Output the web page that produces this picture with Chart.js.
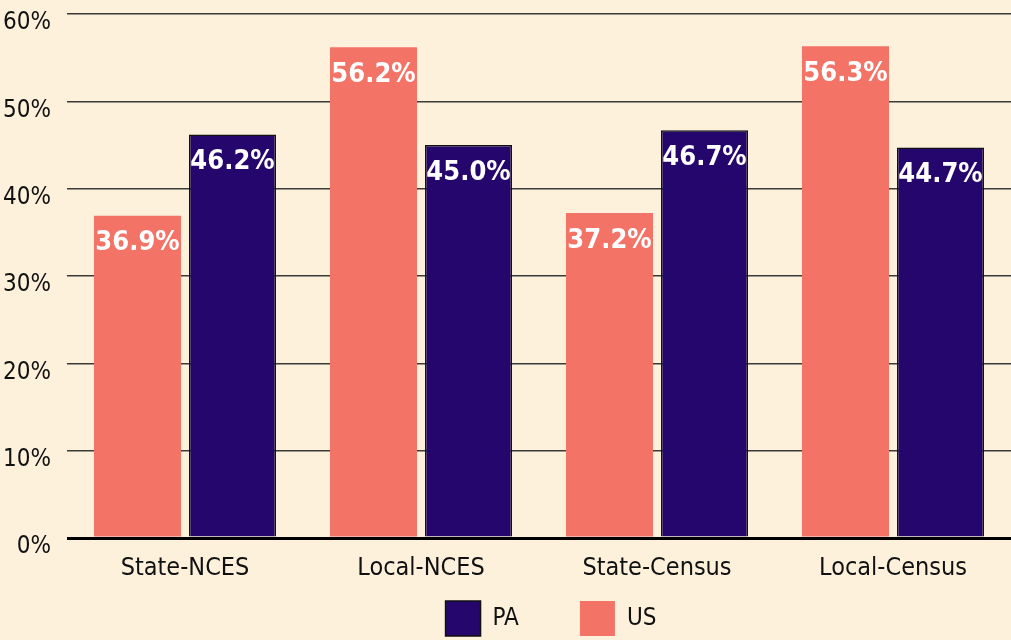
<!DOCTYPE html>
<html>
<head>
<meta charset="utf-8">
<script src="https://cdn.jsdelivr.net/npm/chart.js@4/dist/chart.umd.min.js"></script>
<style>
  html, body { margin: 0; padding: 0; background: #fdf1dc; }
  #wrap { width: 1011px; height: 640px; }
</style>
</head>
<body>
<div id="wrap"><canvas id="chart"></canvas></div>
<script>
const categories = ['State-NCES', 'Local-NCES', 'State-Census', 'Local-Census'];
const usValues = [36.9, 56.2, 37.2, 56.3];
const paValues = [46.2, 45.0, 46.7, 44.7];
const yTicks = [0, 10, 20, 30, 40, 50, 60];

const FONT = '"DejaVu Sans Condensed", sans-serif';

// value labels drawn in white near the top of each bar
const barLabels = {
  id: 'barLabels',
  afterDatasetsDraw(chart) {
    const ctx = chart.ctx;
    ctx.save();
    ctx.fillStyle = '#ffffff';
    ctx.font = 'bold 27px ' + FONT;
    ctx.textAlign = 'center';
    ctx.textBaseline = 'top';
    chart.data.datasets.forEach((ds, i) => {
      chart.getDatasetMeta(i).data.forEach((bar, j) => {
        ctx.fillText(ds.data[j].toFixed(1) + '%', bar.x, bar.y + 14);
      });
    });
    ctx.restore();
  }
};

// nudge the legend a little to the right of centre
const legendShift = {
  id: 'legendShift',
  afterLayout(chart) {
    if (chart.legend) chart.legend.left += 24;
  }
};

new Chart(document.getElementById('chart'), {
  type: 'bar',
  data: {
    labels: categories,
    datasets: [
      {
        label: 'US',
        data: usValues,
        backgroundColor: '#f37367',
        borderWidth: 0
      },
      {
        label: 'PA',
        data: paValues,
        backgroundColor: '#25066c',
        borderColor: '#111111',
        borderWidth: 1.5
      }
    ]
  },
  options: {
    responsive: true,
    maintainAspectRatio: false,
    animation: false,
    categoryPercentage: 0.805,
    barPercentage: 0.916,
    layout: { padding: { top: 14, right: 0, left: 0, bottom: -6 } },
    plugins: {
      tooltip: { enabled: false },
      legend: {
        position: 'bottom',
        fullSize: false,
        reverse: true,
        labels: {
          boxWidth: 35,
          boxHeight: 35,
          padding: 20,
          color: '#111111',
          font: { family: FONT, size: 24 },
          // extra room after the first entry
          generateLabels(chart) {
            const items = Chart.defaults.plugins.legend.labels.generateLabels(chart);
            items.forEach(it => { if (it.text === 'PA') it.text = 'PA\u00a0\u00a0\u00a0\u00a0\u00a0\u00a0'; });
            return items;
          }
        }
      }
    },
    scales: {
      x: {
        afterFit(scale) { scale.height = 43; },
        grid: { display: false },
        border: { display: false },
        ticks: {
          color: '#111111',
          padding: 10,
          font: { family: FONT, size: 25, lineHeight: 1 }
        }
      },
      y: {
        min: 0,
        max: 60,
        afterFit(scale) {
          scale.width = 67;
          scale.paddingTop = 0;
          scale.paddingBottom = 0;
        },
        afterBuildTicks(scale) { scale.ticks = yTicks.map(v => ({ value: v })); },
        border: { display: false },
        grid: {
          drawTicks: false,
          color: ctx => ctx.tick && ctx.tick.value === 0 ? '#000000' : '#3a3a3a',
          lineWidth: ctx => ctx.tick && ctx.tick.value === 0 ? 3 : 1.6
        },
        ticks: {
          color: '#111111',
          padding: 16,
          labelOffset: 9,
          font: { family: FONT, size: 24 },
          callback: v => v + '%'
        }
      }
    }
  },
  plugins: [barLabels, legendShift]
});
</script>
</body>
</html>
